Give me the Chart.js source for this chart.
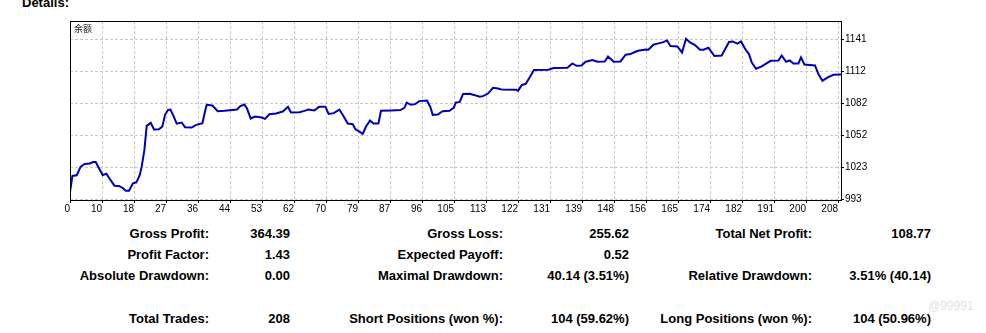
<!DOCTYPE html>
<html>
<head>
<meta charset="utf-8">
<script src="https://cdn.jsdelivr.net/npm/chart.js@4.4.0/dist/chart.umd.min.js"></script>
<style>
  html, body { margin: 0; padding: 0; background: #fff; }
  body { position: relative; width: 986px; height: 333px; overflow: hidden;
         font-family: "Liberation Sans", Arial, sans-serif; color: #000; }
  #graficoBalance { position: absolute; left: 0; top: 0; }
  .t { position: absolute; white-space: nowrap; font-weight: bold; font-size: 13px; line-height: 16px; }
  .r { text-align: right; }
  #titulo { left: 22px; top: -5px; }
  #serie { position: absolute; left: 74px; top: 22px; font: 9px "Noto Sans CJK SC", sans-serif; color: #222; }
  #marca { position: absolute; left: 928px; top: 299px; font-size: 12px; color: #e2e2e2; }
</style>
</head>
<body>
<div class="t" id="titulo">Details:</div>
<canvas id="graficoBalance" width="900" height="222"></canvas>
<div id="serie">余额</div>
<div id="marca">@99991</div>

<script>
// Balance despues de cada operacion
const operacion = [0, 0.65, 1.81, 2.90, 3.98, 5.34, 6.23, 6.96, 7.85, 8.86,
  9.86, 10.94, 12.03, 13.27, 14.19, 15.09, 15.98, 17.06, 17.98, 18.88,
  19.42, 20.15, 20.77, 21.86, 22.75, 24.10, 25.02, 25.73, 26.54, 27.19,
  27.90, 28.90, 30.25, 31.15, 32.96, 34.04, 35.86, 36.56, 37.02, 38.57,
  40.00, 41.82, 45.23, 46.15, 47.23, 47.94, 48.94, 50.10, 51.92, 52.81,
  54.00, 55.79, 57.61, 59.04, 59.85, 62.13, 63.48, 64.57, 66.19, 67.44,
  69.17, 70.06, 71.42, 72.96, 74.13, 75.21, 76.56, 77.30, 78.38, 79.27,
  80.17, 81.25, 82.17, 83.52, 84.23, 86.94, 89.48, 90.57, 91.19, 92.35,
  93.44, 94.63, 96.69, 97.61, 98.23, 99.58, 100.94, 102.75, 103.92, 104.47,
  105.55, 106.44, 108.25, 109.61, 110.96, 111.85, 113.21, 114.56, 115.92, 116.84,
  120.90, 121.33, 122.34, 123.42, 124.31, 125.67, 129.57, 131.00, 134.71, 136.07,
  137.15, 138.50, 139.67, 141.48, 142.84, 144.81, 145.71, 147.25, 149.07, 150.50,
  151.77, 152.94, 153.83, 155.92, 156.65, 158.00, 159.36, 160.52, 161.69, 162.61,
  164.50, 165.75, 166.83, 167.92, 169.27, 170.63, 171.55, 172.90, 174.53, 176.50,
  178.48, 179.48, 180.75, 181.73, 183.00, 183.89, 184.62, 185.79, 187.33, 189.77,
  191.86, 192.75, 193.92, 194.92, 195.92, 197.28, 197.98, 198.90, 201.77, 202.69,
  203.77, 205.21, 206.75, 208.81];

const balance = [1000, 1015, 1015.6, 1023.6, 1026.1, 1026.4, 1027.9, 1027.9, 1022.1, 1015.6,
  1017.1, 1011.3, 1006.0, 1005.7, 1004.1, 1001.4, 1001.4, 1008.2, 1009.1, 1015.6,
  1023.6, 1039.1, 1061.3, 1064.1, 1057.9, 1058.2, 1060.7, 1071.5, 1076.1, 1076.4,
  1071.5, 1063.4, 1064.4, 1060.1, 1059.7, 1062.0, 1063.8, 1074.6, 1080.8, 1080.1,
  1074.9, 1075.2, 1076.4, 1079.6, 1081.0, 1077.3, 1068.1, 1069.9, 1069.0, 1067.8,
  1072.1, 1072.7, 1074.6, 1078.9, 1073.6, 1074.0, 1075.2, 1076.4, 1075.5, 1078.9,
  1078.9, 1072.4, 1073.1, 1076.4, 1069.9, 1063.4, 1062.9, 1058.2, 1056.0, 1053.9,
  1060.7, 1066.2, 1063.4, 1063.4, 1075.2, 1075.5, 1075.9, 1078.0, 1082.9, 1080.8,
  1081.4, 1084.2, 1084.7, 1078.6, 1071.5, 1071.8, 1074.9, 1075.2, 1078.0, 1082.9,
  1083.5, 1090.7, 1090.9, 1089.7, 1088.2, 1088.8, 1091.2, 1096.5, 1095.9, 1094.9,
  1094.7, 1093.7, 1099.0, 1100.2, 1105.1, 1112.9, 1113.2, 1114.8, 1115.0, 1119.0,
  1116.9, 1117.2, 1120.6, 1122.2, 1120.6, 1120.9, 1125.5, 1120.6, 1120.9, 1127.1,
  1127.7, 1129.6, 1130.8, 1132.0, 1131.7, 1136.4, 1137.6, 1138.5, 1140.3, 1135.2,
  1134.8, 1129.2, 1141.9, 1138.5, 1136.1, 1131.7, 1131.7, 1133.6, 1125.9, 1126.4,
  1138.9, 1139.4, 1137.3, 1139.4, 1131.7, 1127.7, 1120.0, 1114.1, 1116.3, 1121.5,
  1121.8, 1126.4, 1120.6, 1121.8, 1119.0, 1119.0, 1124.6, 1118.1, 1117.2, 1109.2,
  1103.0, 1106.1, 1108.6, 1108.8];

// Etiquetas de los ejes
const xTickLabels = ['0', '10', '18', '27', '36', '44', '53', '62', '70', '79', '87', '96', '105',
  '113', '122', '131', '139', '148', '156', '165', '174', '182', '191', '200', '208'];
const yTicks = [993.2, 1022.85, 1052.5, 1082.15, 1111.8, 1141.45];
const yTickLabels = ['993', '1023', '1052', '1082', '1112', '1141'];

// Resumen del test
const statLabels = [
  ['Gross Profit:', 'Gross Loss:', 'Total Net Profit:'],
  ['Profit Factor:', 'Expected Payoff:', ''],
  ['Absolute Drawdown:', 'Maximal Drawdown:', 'Relative Drawdown:'],
  ['Total Trades:', 'Short Positions (won %):', 'Long Positions (won %):']
];
const statValues = [
  ['364.39', '255.62', '108.77'],
  ['1.43', '0.52', ''],
  ['0.00', '40.14 (3.51%)', '3.51% (40.14)'],
  ['208', '104 (59.62%)', '104 (50.96%)']
];

// Tabla de resultados debajo del grafico
const filaTop = [226, 247, 268, 310.5];
const colLabelRight = [209, 503, 812];
const colValueRight = [290, 629, 931];
statLabels.forEach((fila, i) => {
  fila.forEach((txt, j) => {
    [[txt, colLabelRight[j]], [statValues[i][j], colValueRight[j]]].forEach(([s, right]) => {
      if (!s) return;
      const d = document.createElement('div');
      d.className = 't r';
      d.textContent = s;
      d.style.top = filaTop[i] + 'px';
      d.style.right = (986 - right) + 'px';
      document.body.appendChild(d);
    });
  });
});

// Marco negro alrededor del area del grafico
const marco = {
  id: 'marco',
  afterDraw(chart) {
    const a = chart.chartArea;
    const c = chart.ctx;
    c.save();
    c.strokeStyle = '#000';
    c.lineWidth = 1;
    c.strokeRect(a.left + 0.5, a.top + 0.5, a.right - a.left, a.bottom - a.top);
    c.restore();
  }
};

const fuente = { family: '"Liberation Sans", Arial, sans-serif', size: 10 };

const config = {
  type: 'line',
  data: {
    datasets: [{
      data: operacion.map((x, i) => ({ x: x, y: balance[i] })),
      borderColor: '#0000b4',
      borderWidth: 2,
      pointRadius: 0,
      tension: 0,
      fill: false
    }]
  },
  options: {
    responsive: false,
    animation: false,
    layout: { padding: { left: 70, top: 21, right: 14, bottom: 0 } },
    plugins: { legend: { display: false }, tooltip: { enabled: false } },
    scales: {
      x: {
        type: 'linear',
        min: 0,
        max: 208.81,
        afterBuildTicks: s => { s.ticks = xTickLabels.map((_, i) => ({ value: i * 208 / 24 })); },
        afterFit: s => { s.height = 22; },
        ticks: {
          callback: (v, i) => xTickLabels[i],
          align: 'end',
          autoSkip: false,
          maxRotation: 0,
          padding: 0,
          color: '#000',
          font: fuente
        },
        grid: { color: '#c8c8c8', tickColor: '#000', tickLength: 3 },
        border: { display: true, color: '#000', dash: [3, 2] }
      },
      y: {
        position: 'right',
        min: 992.74,
        max: 1158.3,
        afterBuildTicks: s => { s.ticks = yTicks.map(v => ({ value: v })); },
        afterFit: s => { s.width = 45; },
        ticks: {
          callback: (v, i) => yTickLabels[i],
          padding: 1,
          color: '#000',
          font: fuente
        },
        grid: { color: '#c8c8c8', tickColor: '#000', tickLength: 3 },
        border: { display: true, color: '#000', dash: [3, 2] }
      }
    }
  },
  plugins: [marco]
};

const ctx = document.getElementById('graficoBalance').getContext('2d');
new Chart(ctx, config);
</script>
</body>
</html>
